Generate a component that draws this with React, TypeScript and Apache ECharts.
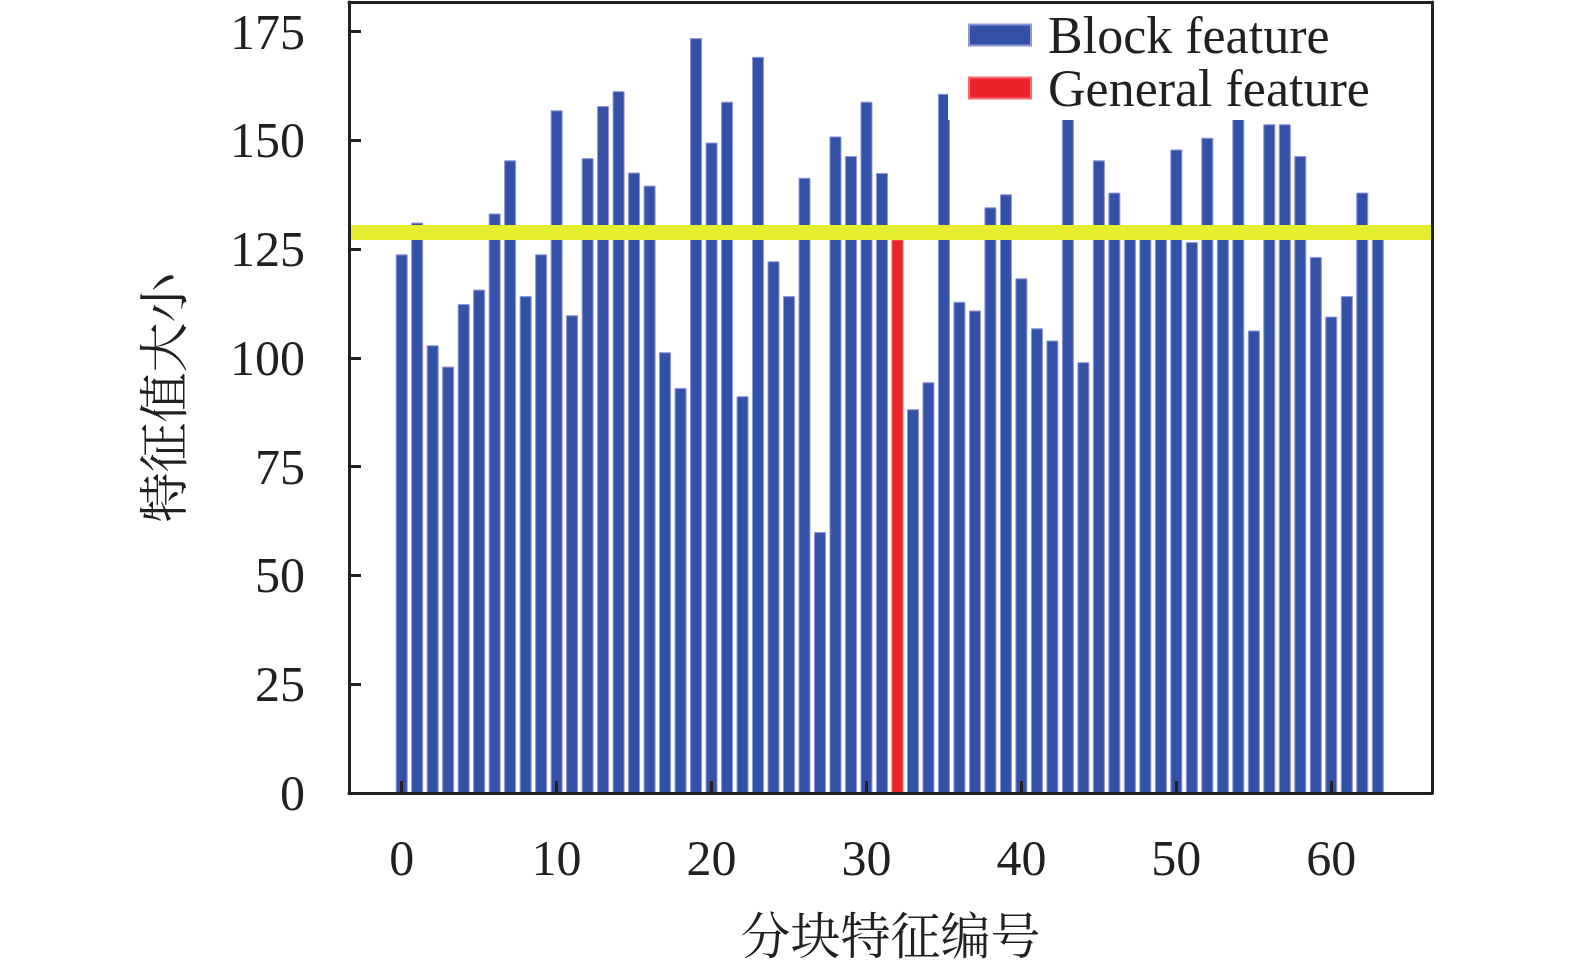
import React, { useEffect, useRef } from 'react';
import * as echarts from 'echarts';

// 分块特征编号 0..63
const featureIndex: number[] = Array.from({ length: 64 }, (_, i) => i);

// Block feature 特征值 (index 32 is the general feature)
const blockValues: (number | null)[] = [
  123.8, 131.1, 102.9, 98.0, 112.4, 115.7, 133.2, 145.4, 114.2, 123.8,
  156.9, 109.8, 145.9, 157.9, 161.3, 142.6, 139.6, 101.3, 93.1, 173.5,
  149.5, 158.9, 91.2, 169.2, 122.2, 114.2, 141.4, 60.0, 150.9, 146.4,
  158.9, 142.5, null, 88.2, 94.4, 160.7, 112.9, 110.9, 134.6, 137.6,
  118.3, 106.8, 104.0, 158.0, 99.0, 145.4, 138.0, 128.0, 128.0, 128.0,
  147.9, 126.6, 150.6, 128.0, 158.0, 106.3, 153.7, 153.7, 146.4, 123.2,
  109.5, 114.2, 138.0, 128.0,
];

const generalIndex = 32;
const generalValue = 127.2;
const threshold = 128.8;

const xTicks = [0, 10, 20, 30, 40, 50, 60];
const yTicks = [0, 25, 50, 75, 100, 125, 150, 175];

const SERIF = "'Liberation Serif', 'Times New Roman', 'Noto Serif CJK SC', 'Noto Sans CJK SC', serif";
const INK = '#231f20';

const App: React.FC = () => {
  const chartRef = useRef<HTMLDivElement>(null);

  useEffect(() => {
    if (!chartRef.current) return;
    const chart = echarts.init(chartRef.current, undefined, { renderer: 'svg' });

    const blockData = featureIndex
      .filter((i) => blockValues[i] != null)
      .map((i) => [i, blockValues[i] as number]);

    const axisLine = { show: true, onZero: false, lineStyle: { color: INK, width: 3 } };

    const option = {
      animation: false,
      backgroundColor: '#ffffff',
      grid: { left: 349, top: 2, right: 143, bottom: 174, show: false },
      legend: {
        orient: 'vertical',
        left: 948,
        top: 4,
        align: 'left',
        backgroundColor: '#ffffff',
        padding: [5, 40, 6, 20],
        itemWidth: 62,
        itemHeight: 21,
        itemGap: 1,
        icon: 'rect',
        textStyle: { fontFamily: SERIF, fontSize: 52, color: INK, padding: [0, 0, 0, 12] },
        data: ['Block feature', 'General feature'],
      },
      xAxis: [
        {
          type: 'value',
          min: -3.4,
          max: 66.5,
          z: 6,
          name: '分块特征编号',
          nameLocation: 'middle',
          nameGap: 119,
          nameTextStyle: { fontFamily: SERIF, fontSize: 50, color: INK },
          axisLine,
          axisTick: { show: true, inside: true, length: 12, lineStyle: { color: INK, width: 3 }, customValues: xTicks },
          axisLabel: { fontFamily: SERIF, fontSize: 50, color: INK, margin: 40, customValues: xTicks },
          splitLine: { show: false },
        },
        {
          type: 'value',
          position: 'top',
          min: -3.4,
          max: 66.5,
          z: 10,
          axisLine,
          axisTick: { show: false },
          axisLabel: { show: false },
          splitLine: { show: false },
        },
      ],
      yAxis: [
        {
          type: 'value',
          min: 0,
          max: 181.8,
          z: 6,
          name: '特征值大小',
          nameLocation: 'middle',
          nameGap: 159,
          nameRotate: 90,
          nameTextStyle: { fontFamily: SERIF, fontSize: 50, color: INK },
          axisLine,
          axisTick: { show: true, inside: true, length: 12, lineStyle: { color: INK, width: 3 }, customValues: yTicks },
          axisLabel: { fontFamily: SERIF, fontSize: 50, color: INK, margin: 44, customValues: yTicks },
          splitLine: { show: false },
        },
        {
          type: 'value',
          position: 'right',
          min: 0,
          max: 181.8,
          z: 10,
          axisLine,
          axisTick: { show: false },
          axisLabel: { show: false },
          splitLine: { show: false },
        },
      ],
      series: [
        {
          name: 'Block feature',
          type: 'bar',
          barWidth: 12,
          barGap: '-100%',
          itemStyle: { color: '#3451a8', borderColor: '#8f97d8', borderWidth: 1 },
          data: blockData,
          markLine: {
            silent: true,
            symbol: ['none', 'none'],
            label: { show: false },
            lineStyle: { color: '#e6ec2e', width: 15, type: 'solid' },
            data: [{ yAxis: threshold }],
          },
        },
        {
          name: 'General feature',
          type: 'bar',
          barWidth: 12,
          barGap: '-100%',
          itemStyle: { color: '#ee2229', borderColor: '#f46a6f', borderWidth: 1 },
          data: [[generalIndex, generalValue]],
        },
      ],
    };

    chart.setOption(option);
    return () => {
      chart.dispose();
    };
  }, []);

  return (
    <div
      ref={chartRef}
      style={{ position: 'absolute', left: 0, top: 0, width: 1575, height: 967, background: '#fff' }}
    />
  );
};

export default App;
